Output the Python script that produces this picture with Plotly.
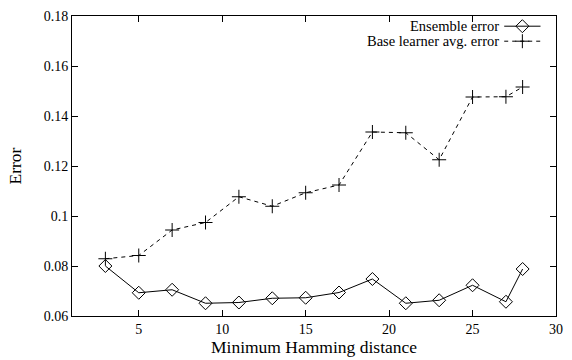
import plotly.graph_objects as go

# Minimum Hamming distance of the code matrix
hamming = [3, 5, 7, 9, 11, 13, 15, 17, 19, 21, 23, 25, 27, 28]

# Test error of the full ensemble
ensemble_error = [0.0800, 0.0693, 0.0705, 0.0651, 0.0654, 0.0671, 0.0673,
                  0.0694, 0.0748, 0.0651, 0.0663, 0.0723, 0.0657, 0.0788]

# Average test error of the individual base learners
base_error = [0.0829, 0.0842, 0.0944, 0.0974, 0.1077, 0.1039, 0.1093,
              0.1124, 0.1336, 0.1333, 0.1225, 0.1476, 0.1477, 0.1516]

x_ticks = [5, 10, 15, 20, 25, 30]
y_ticks = [0.06, 0.08, 0.10, 0.12, 0.14, 0.16, 0.18]
y_tick_text = ["0.06", "0.08", "0.1", "0.12", "0.14", "0.16", "0.18"]

FONT = "Liberation Serif, Times New Roman, Times, serif"
BLACK = "#000000"

fig = go.Figure()

fig.add_trace(go.Scatter(
    x=hamming, y=ensemble_error, mode="lines+markers",
    line=dict(color=BLACK, width=1),
    marker=dict(symbol="diamond-open", size=10, color=BLACK,
                line=dict(width=1, color=BLACK)),
    showlegend=False,
))
fig.add_trace(go.Scatter(
    x=hamming, y=base_error, mode="lines+markers",
    line=dict(color=BLACK, width=1, dash="4px,4px"),
    marker=dict(symbol="cross-thin-open", size=10, color=BLACK,
                line=dict(width=1, color=BLACK)),
    showlegend=False,
))

# Key in the top-right corner: label on the left, sample on the right
key_rows = [("Ensemble error", "solid", "diamond-open", 10, 0.966),
            ("Base learner avg. error", "4px,4px", "cross-thin-open", 10, 0.916)]
key_x0, key_x1 = 0.893, 0.968
for label, dash, symbol, msize, ky in key_rows:
    fig.add_trace(go.Scatter(
        x=[key_x0, key_x1], y=[ky, ky], mode="lines",
        line=dict(color=BLACK, width=1, dash=dash),
        xaxis="x2", yaxis="y2", showlegend=False, hoverinfo="skip",
    ))
    fig.add_trace(go.Scatter(
        x=[(key_x0 + key_x1) / 2], y=[ky], mode="markers",
        marker=dict(symbol=symbol, size=msize, color=BLACK,
                    line=dict(width=1, color=BLACK)),
        xaxis="x2", yaxis="y2", showlegend=False, hoverinfo="skip",
    ))
    fig.add_annotation(
        x=key_x0 - 0.008, y=ky, xref="x2", yref="y2", text=label,
        showarrow=False, xanchor="right", yanchor="middle",
        font=dict(family=FONT, size=14.5, color=BLACK),
        borderpad=0,
    )

fig.update_layout(
    width=572, height=360,
    margin=dict(l=72, r=9, t=11, b=43),
    paper_bgcolor="white", plot_bgcolor="white",
    font=dict(family=FONT, size=14, color=BLACK),
    xaxis=dict(
        range=[1, 30], tickvals=x_ticks, ticks="inside", ticklen=6,
        tickcolor=BLACK, showline=True, linecolor=BLACK, linewidth=1,
        mirror="ticks", showgrid=False, zeroline=False,
        tickfont=dict(family=FONT, size=14),
        title=dict(text="Minimum Hamming distance", standoff=2,
                   font=dict(family=FONT, size=17.5)),
    ),
    yaxis=dict(
        range=[0.06, 0.18], tickvals=y_ticks, ticktext=y_tick_text,
        ticks="inside", ticklen=6, tickcolor=BLACK, showline=True,
        linecolor=BLACK, linewidth=1, mirror="ticks", showgrid=False,
        zeroline=False, tickfont=dict(family=FONT, size=14),
        title=dict(text="Error", standoff=17,
                   font=dict(family=FONT, size=17.5)),
    ),
    xaxis2=dict(range=[0, 1], overlaying="x", visible=False, fixedrange=True),
    yaxis2=dict(range=[0, 1], overlaying="y", visible=False, fixedrange=True),
)

fig.write_html("out.html")
